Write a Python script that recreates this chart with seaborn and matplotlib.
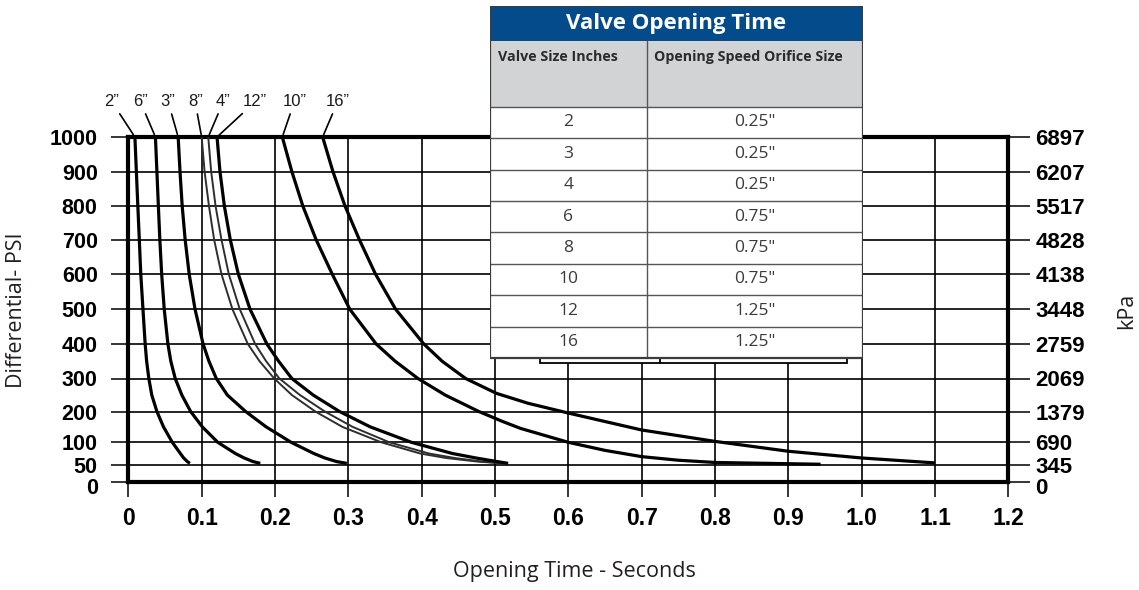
import numpy as np
import pandas as pd
import matplotlib
matplotlib.use('Agg')
import matplotlib.pyplot as plt
import matplotlib.transforms as mtransforms
from matplotlib.patches import Rectangle
import seaborn as sns

# Valve opening time (seconds) against differential pressure (psi)
SIZES = ['2"', '6"', '3"', '8"', '4"', '12"', '10"', '16"']
CURVE_LABELS = ['2\u201d', '6\u201d', '3\u201d', '8\u201d', '4\u201d', '12\u201d', '10\u201d', '16\u201d']

PSI_LEVELS = [1000, 900, 800, 700, 600, 500, 400, 350, 300, 250, 200, 150, 100, 75, 65, 57, 53]
time_2 = [0.009, 0.011, 0.013, 0.015, 0.017, 0.020, 0.023, 0.025, 0.028, 0.032, 0.039, 0.048, 0.060,
          0.071, 0.0755, 0.0805, 0.084]
time_6 = [0.037, 0.039, 0.041, 0.043, 0.0455, 0.049, 0.054, 0.058, 0.064, 0.073, 0.085, 0.101, 0.122,
          0.146, 0.158, 0.170, 0.180]
time_3 = [0.068, 0.0705, 0.0735, 0.0775, 0.083, 0.091, 0.102, 0.110, 0.120, 0.135, 0.160, 0.188, 0.222,
          0.253, 0.268, 0.284, 0.298]
time_8 = [0.100, 0.104, 0.110, 0.117, 0.127, 0.142, 0.163, 0.179, 0.199, 0.223, 0.255, 0.292, 0.345,
          0.398, 0.433, 0.476, 0.510]
time_4 = [0.109, 0.113, 0.119, 0.127, 0.137, 0.152, 0.173, 0.188, 0.206, 0.234, 0.268, 0.306, 0.356,
          0.410, 0.445, 0.482, 0.514]
time_12 = [0.121, 0.125, 0.131, 0.139, 0.150, 0.166, 0.189, 0.205, 0.223, 0.252, 0.288, 0.330, 0.386,
           0.442, 0.474, 0.503, 0.518]

psi_10 = [1000, 900, 800, 700, 600, 500, 400, 350, 300, 250, 200, 168, 145, 100, 82, 68, 60, 55, 51]
time_10 = [0.210, 0.223, 0.238, 0.256, 0.278, 0.302, 0.338, 0.364, 0.395, 0.432, 0.478, 0.510, 0.535,
           0.600, 0.650, 0.700, 0.750, 0.800, 0.944]
psi_16 = [1000, 900, 800, 700, 600, 500, 400, 350, 300, 255, 225, 195, 140, 103, 80, 65, 54]
time_16 = [0.265, 0.279, 0.2955, 0.315, 0.337, 0.3645, 0.403, 0.428, 0.460, 0.502, 0.545, 0.600,
           0.700, 0.800, 0.900, 1.000, 1.100]

# axis ticks
TIME_TICKS = [0, 0.1, 0.2, 0.3, 0.4, 0.5, 0.6, 0.7, 0.8, 0.9, 1.0, 1.1, 1.2]
TIME_LABELS = ['0', '0.1', '0.2', '0.3', '0.4', '0.5', '0.6', '0.7', '0.8', '0.9', '1.0', '1.1', '1.2']
PSI_TICKS = [0, 50, 100, 200, 300, 400, 500, 600, 700, 800, 900, 1000]
KPA_LABELS = ['0', '345', '690', '1379', '2069', '2759', '3448', '4138', '4828', '5517', '6207', '6897']

# table contents
TABLE_TITLE = 'Valve Opening Time'
TABLE_HEADERS = ['Valve Size Inches', 'Opening Speed Orifice Size']
TABLE_SIZES = ['2', '3', '4', '6', '8', '10', '12', '16']
TABLE_ORIFICE = ['0.25"', '0.25"', '0.25"', '0.75"', '0.75"', '0.75"', '1.25"', '1.25"']

# layout: the printed chart spaces the psi gridlines unevenly near the bottom
GRID_POS = [0, 16.8, 39.2, 70, 103, 137.5, 172.3, 207.5, 242, 275.5, 310, 344.5]
LABEL_DX = [-23, -15, -10, -6.5, 15, 38, 12, 15]   # pixels, label centre vs curve top
THIN = {'8"', '4"'}


def fwd(v):
    return np.interp(v, PSI_TICKS, GRID_POS)


def inv(v):
    return np.interp(v, GRID_POS, PSI_TICKS)


def build_frame():
    series = {
        '2"': (PSI_LEVELS, time_2), '6"': (PSI_LEVELS, time_6), '3"': (PSI_LEVELS, time_3),
        '8"': (PSI_LEVELS, time_8), '4"': (PSI_LEVELS, time_4), '12"': (PSI_LEVELS, time_12),
        '10"': (psi_10, time_10), '16"': (psi_16, time_16),
    }
    frames = []
    for size in SIZES:
        psi, t = series[size]
        frames.append(pd.DataFrame({'size': size, 'time': t, 'psi': psi}))
    return pd.concat(frames, ignore_index=True), series


def draw_table(fig):
    W, H = 1139, 590
    tab = fig.add_axes([490 / W, 1 - 366 / H, 373 / W, 360 / H])
    tab.set_xlim(0, 373)
    tab.set_ylim(360, 0)
    tab.axis('off')
    ui = ['Open Sans', 'DejaVu Sans']
    edge = '#3c3c3c'

    # box peeking out below the table
    tab.add_patch(Rectangle((50, 330), 306.7, 27.3, facecolor='white', edgecolor='black', lw=1.3, zorder=1))
    tab.plot([170, 170], [340, 357.3], color='black', lw=1.3, zorder=1)

    tab.add_patch(Rectangle((0, 0), 373, 35, facecolor='#044b8c', edgecolor='none', zorder=2))
    tab.add_patch(Rectangle((0, 35), 373, 65.7, facecolor='#d1d3d4', edgecolor='none', zorder=2))
    tab.add_patch(Rectangle((0, 100.7), 373, 251.3, facecolor='white', edgecolor='none', zorder=2))
    tab.text(186.5, 18, TABLE_TITLE, color='white', fontsize=16, fontweight='bold',
             ha='center', va='center', family=ui, zorder=4)
    tab.text(8, 44, TABLE_HEADERS[0], color='#2b2b2b', fontsize=10.3, fontweight='bold',
             ha='left', va='top', family=ui, zorder=4)
    tab.text(164, 44, TABLE_HEADERS[1], color='#2b2b2b', fontsize=10.3, fontweight='bold',
             ha='left', va='top', family=ui, zorder=4)

    row_h = 251.3 / len(TABLE_SIZES)
    for i, (s, o) in enumerate(zip(TABLE_SIZES, TABLE_ORIFICE)):
        y0 = 100.7 + i * row_h
        tab.plot([0, 373], [y0, y0], color='#555555', lw=1.0, zorder=3)
        yc = y0 + row_h / 2
        tab.text(78.3, yc, s, color='#3a3a3a', fontsize=12.5, ha='center', va='center', family=ui, zorder=4)
        tab.text(265, yc, o, color='#3a3a3a', fontsize=12.5, ha='center', va='center', family=ui, zorder=4)
    tab.plot([156.7, 156.7], [35, 352], color='#555555', lw=1.0, zorder=3)
    tab.add_patch(Rectangle((0, 0), 373, 352, facecolor='none', edgecolor=edge, lw=1.6, zorder=5))


def main():
    sns.set_theme(style='white')
    plt.rcParams['font.family'] = ['Liberation Sans', 'DejaVu Sans']

    df, series = build_frame()

    W, H = 1139, 590
    fig = plt.figure(figsize=(W / 100, H / 100), dpi=100)
    ax = fig.add_axes([128.3 / W, 108.5 / H, 880 / W, 344.5 / H])

    palette = {s: ('#2e2e2e' if s in THIN else 'black') for s in SIZES}
    widths = {s: (1.4 if s in THIN else 2.3) for s in SIZES}
    sns.lineplot(data=df, x='time', y='psi', hue='size', size='size',
                 hue_order=SIZES, size_order=SIZES, palette=palette, sizes=widths,
                 estimator=None, sort=False, legend=False, ax=ax,
                 solid_capstyle='butt', solid_joinstyle='round', zorder=3)

    ax.set_yscale('function', functions=(fwd, inv))
    ax.set_xlim(0, 1.2)
    ax.set_ylim(0, 1000)
    ax.set_xticks(TIME_TICKS, labels=TIME_LABELS)
    ax.set_yticks(PSI_TICKS, labels=[str(p) for p in PSI_TICKS])
    ax.minorticks_off()
    ax.set_xlabel('')
    ax.set_ylabel('')
    ax.grid(True, color='black', lw=1.2)
    for sp in ax.spines.values():
        sp.set_visible(True)
        sp.set_color('black')
        sp.set_linewidth(3.0)
    ax.tick_params(axis='y', which='major', left=True, length=12, width=1.1, color='black',
                   pad=10, labelsize=15.5)
    ax.tick_params(axis='x', which='major', bottom=True, length=11, width=1.1, color='black',
                   pad=7.5, labelsize=16.5)
    for lab in ax.get_xticklabels() + ax.get_yticklabels():
        lab.set_fontweight('bold')
        lab.set_color('black')

    ax2 = ax.twinx()
    ax2.set_yscale('function', functions=(fwd, inv))
    ax2.set_ylim(0, 1000)
    ax2.set_yticks(PSI_TICKS, labels=KPA_LABELS)
    ax2.minorticks_off()
    ax2.grid(False)
    for sp in ax2.spines.values():
        sp.set_visible(False)
    ax2.tick_params(axis='y', right=True, length=15.5, width=1.1, color='black', pad=4, labelsize=16)
    for lab in ax2.get_yticklabels():
        lab.set_fontweight('bold')
        lab.set_color('black')

    # the printed "0" labels sit a little below their gridline, clear of "50"
    nudge = mtransforms.ScaledTranslation(0, -4 / 100, fig.dpi_scale_trans)
    for lab in (ax.get_yticklabels()[0], ax2.get_yticklabels()[0]):
        lab.set_transform(lab.get_transform() + nudge)

    # curve labels with leader lines
    for size, label, dx in zip(SIZES, CURVE_LABELS, LABEL_DX):
        psi, t = series[size]
        ax.annotate(label, xy=(t[0], psi[0]), xycoords='data',
                    xytext=(dx * 0.72, 25.3), textcoords='offset points',
                    ha='center', va='center', fontsize=12, color='#1a1a1a',
                    arrowprops=dict(arrowstyle='-', color='black', lw=1.2, shrinkA=1, shrinkB=2),
                    annotation_clip=False)

    ui = ['Open Sans', 'DejaVu Sans']
    fig.text(17 / W, 1 - 310 / H, 'Differential- PSI', rotation=90, ha='center', va='center',
             fontsize=15.5, color='#231f20', family=ui)
    fig.text(1127 / W, 1 - 311 / H, 'kPa', rotation=90, ha='center', va='center',
             fontsize=15.5, color='#231f20', family=ui)
    fig.text(574 / W, 1 - 572 / H, 'Opening Time - Seconds', ha='center', va='center',
             fontsize=15.5, color='#231f20', family=ui)

    draw_table(fig)

    fig.savefig('out.png', dpi=100)
    plt.close(fig)


if __name__ == '__main__':
    main()
